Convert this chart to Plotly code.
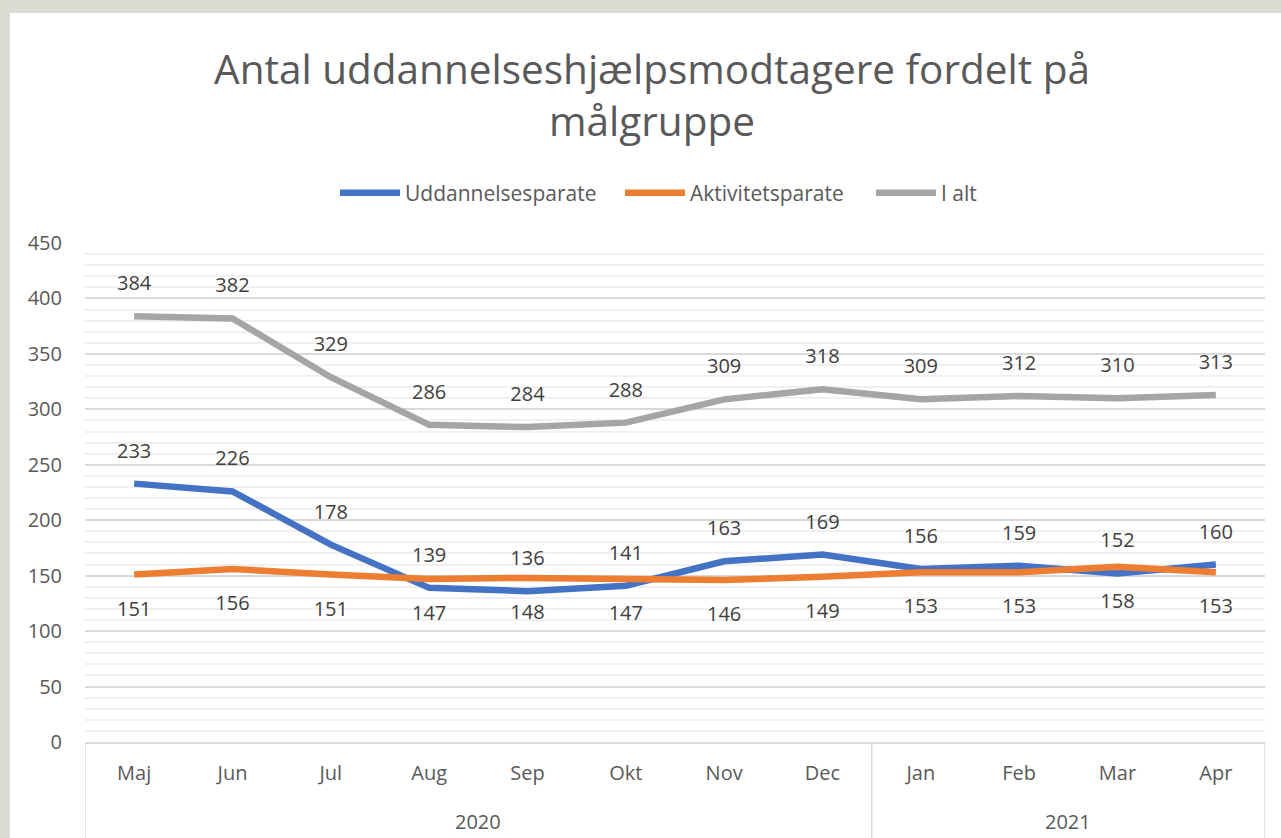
import plotly.graph_objects as go

months = ["Maj", "Jun", "Jul", "Aug", "Sep", "Okt", "Nov", "Dec", "Jan", "Feb", "Mar", "Apr"]
years = ["2020", "2021"]
year_counts = [8, 4]

uddannelsesparate = [233, 226, 178, 139, 136, 141, 163, 169, 156, 159, 152, 160]
aktivitetsparate = [151, 156, 151, 147, 148, 147, 146, 149, 153, 153, 158, 153]
i_alt = [384, 382, 329, 286, 284, 288, 309, 318, 309, 312, 310, 313]

series = [
    ("Uddannelsesparate", uddannelsesparate, "#4472C4", "top center", 32, "legend", 0.2119),
    ("Aktivitetsparate", aktivitetsparate, "#ED7D31", "bottom center", 40, "legend2", 0.4534),
    ("I alt", i_alt, "#A5A5A5", "top center", 32, "legend3", 0.6661),
]

FONT = "Open Sans"
TXT = "#595959"
GRID = "#D9D9D9"

fig = go.Figure()
legend_layout = {}
for name, vals, color, pos, msize, leg, lx in series:
    fig.add_trace(go.Scatter(
        x=months, y=vals, name=name, legend=leg,
        mode="lines+markers+text",
        line=dict(color=color, width=6.5),
        marker=dict(size=msize, color="rgba(0,0,0,0)"),
        text=[str(v) for v in vals], textposition=pos,
        textfont=dict(family=FONT, size=20, color="#404040"),
        cliponaxis=False,
    ))
    legend_layout[leg] = dict(orientation="h", x=lx, xanchor="left", y=1.10, yanchor="middle",
                              font=dict(family=FONT, size=21, color=TXT),
                              itemwidth=60, bgcolor="rgba(0,0,0,0)")

# white chart area on grey page
fig.add_shape(type="rect", xref="paper", yref="paper",
              x0=-0.0636, x1=1.1, y0=-0.3, y1=1.461,
              fillcolor="white", line=dict(width=0), layer="below")

# year group labels and dividers
start = 0
edges = [-0.5]
for yr, n in zip(years, year_counts):
    center = start + (n - 1) / 2
    fig.add_annotation(x=center, y=-0.16, xref="x", yref="paper", text=yr,
                       showarrow=False, font=dict(family=FONT, size=20, color=TXT),
                       yanchor="middle")
    start += n
    edges.append(start - 0.5)
for e in edges:
    fig.add_shape(type="line", xref="x", yref="paper", x0=e, x1=e, y0=0, y1=-0.3,
                  line=dict(color=GRID, width=1.5))

fig.update_layout(
    width=1281, height=838,
    paper_bgcolor="#DCDCD4", plot_bgcolor="rgba(0,0,0,0)",
    margin=dict(l=85, r=16, t=243, b=96),
    title=dict(text="Antal uddannelseshjælpsmodtagere fordelt på<br>målgruppe",
               x=0.509, xanchor="center", y=0.90, yanchor="top",
               font=dict(family=FONT, size=40.5, color=TXT)),
    showlegend=True,
    font=dict(family=FONT, color=TXT),
    **legend_layout,
)
fig.update_yaxes(range=[0, 450], dtick=50, showgrid=True, gridcolor=GRID, gridwidth=1.5,
                 zeroline=False, tickfont=dict(family=FONT, size=20, color=TXT),
                 ticks="", ticklabelstandoff=22, automargin=False,
                 minor=dict(dtick=10, showgrid=True, gridcolor="#F0F0F0", gridwidth=1.5))
fig.update_xaxes(type="category", range=[-0.5, 11.5], showgrid=False, showline=True,
                 linecolor=GRID, linewidth=1.5, automargin=False,
                 tickfont=dict(family=FONT, size=20, color=TXT), ticks="",
                 ticklabelstandoff=12)

fig.write_html("out.html", config={"displayModeBar": False},
               post_script="document.body.style.margin='0';document.body.style.overflow='hidden';")
